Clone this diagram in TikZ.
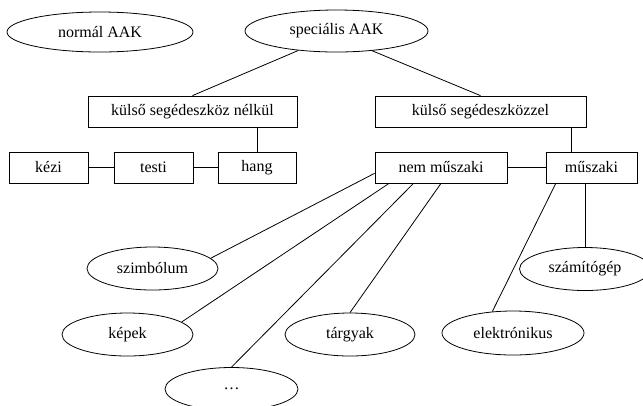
\documentclass[tikz,border=0pt]{standalone}
\usepackage{fontspec}
\setmainfont{Liberation Serif}
\usetikzlibrary{shapes.geometric}

\begin{document}
\begin{tikzpicture}[x=0.75pt,y=-0.75pt,line width=0.6pt,
    every node/.style={font=\fontsize{12}{14}\selectfont},
    box/.style={draw,rectangle,minimum height=23.25pt,inner sep=0pt},
    oval/.style={draw,ellipse,minimum width=98.25pt,minimum height=32.25pt,inner sep=0pt}]
                \useasboundingbox (0,0) rectangle (643,405);

                % Top level
                \node[oval,minimum width=139.5pt,minimum height=30pt] (normal) at (100,32) {normál AAK};
                \node[oval,minimum width=137.25pt,minimum height=31.5pt] (spec) at (336.5,31) {speciális AAK};

                % Second level
                \node[box,minimum width=156.75pt] (nelkul) at (192.5,111.5) {külső segédeszköz nélkül};
                \node[box,minimum width=158.25pt] (kozzel) at (480.5,111.5) {külső segédeszközzel};

                % Third level
                \node[box,minimum width=59.25pt] (kezi) at (48.5,167.5) {kézi};
                \node[box,minimum width=59.25pt] (testi) at (153.5,167.5) {testi};
                \node[box,minimum width=58.5pt] (hang) at (257,167.5) {hang};
                \node[box,minimum width=99pt] (nemmu) at (441,167.5) {nem műszaki};
                \node[box,minimum width=68.25pt] (muszaki) at (591.5,167.5) {műszaki};

                % Leaves
                \node[oval] (szimb) at (152.5,268.5) {szimbólum};
                \node[oval] (kepek) at (127.5,334.5) {képek};
                \node[oval,minimum width=99.75pt] (dots) at (231.5,389) {\dots};
                \node[oval,minimum width=97.5pt] (targy) at (350,334.5) {tárgyak};
                \node[oval,minimum width=106.5pt,minimum height=33pt] (elek) at (513,333) {elektrónikus};
                \node[oval] (szamit) at (585,269) {számítógép};

                % Connections
                \draw (spec.207) -- (nelkul.north);
                \draw (spec.331) -- (kozzel.north);
                \draw (hang.north) -- (hang.north |- nelkul.south);
                \draw (muszaki.141.5) -- (muszaki.141.5 |- kozzel.south);
                \draw (kezi.east) -- (testi.west);
                \draw (testi.east) -- (hang.west);
                \draw (nemmu.east) -- (muszaki.west);

                \draw (nemmu.185) -- (szimb.10);
                \draw (nemmu.197) -- (kepek.13);
                \draw (nemmu.210) -- (dots.north);
                \draw (nemmu.south) -- (targy.north);
                \draw (muszaki.204) -- (elek.134);
                \draw (szamit.north) -- (szamit.north |- muszaki.south);
\end{tikzpicture}
\end{document}
